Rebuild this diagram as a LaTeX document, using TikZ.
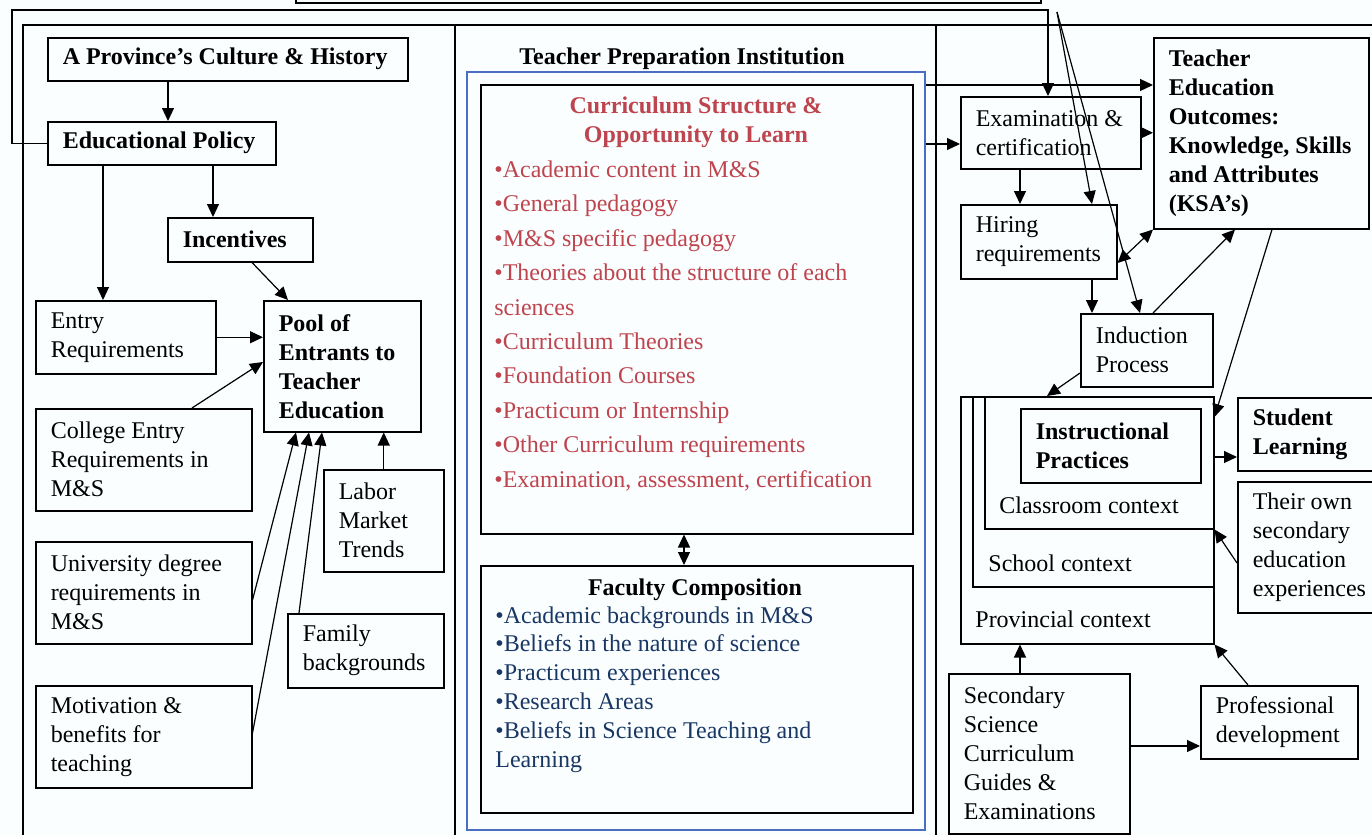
\documentclass[tikz,border=0pt]{standalone}
\usepackage{fontspec}
\setmainfont{Liberation Serif}
\usetikzlibrary{arrows.meta}
\definecolor{bg}{RGB}{250,254,255}
\definecolor{currred}{RGB}{190,68,78}
\definecolor{facblue}{RGB}{25,55,100}
\definecolor{instblue}{RGB}{75,110,195}
\hyphenpenalty=10000
\exhyphenpenalty=10000

\begin{document}
\begin{tikzpicture}[x=0.5pt,y=-0.5pt,>={Triangle[length=6.5pt,width=6pt]},
  font=\fontsize{12}{14.5}\selectfont,
  box/.style={draw,line width=0.75pt,anchor=north west,align=flush left,inner xsep=7.5pt,inner ysep=0pt},
  hbox/.style={box,font=\fontsize{12}{14.5}\selectfont\bfseries},
  ctx/.style={draw,line width=0.75pt,anchor=north west,inner sep=0pt},
  lab/.style={anchor=base west,inner sep=0pt,align=flush left},
  head/.style={anchor=base,inner sep=0pt,align=center,font=\fontsize{12}{14.5}\selectfont\bfseries},
  conn/.style={->,line width=0.6pt}]
\fill[bg] (0,0) rectangle (1372,835);
\useasboundingbox (0,0) rectangle (1372,835);
% frames
\node[ctx,minimum width=679pt,minimum height=411pt] (outer) at (22,24) {};
\draw[line width=0.75pt] (outer.north -| 455,0) -- (455,845);
\draw[line width=0.75pt] (outer.north -| 936,0) -- (936,845);
\node[ctx,minimum width=372.5pt,minimum height=31pt] (topbox) at (295,-60) {};
% left column
\node[hbox,text width=165pt,minimum height=21.5pt] (province) at (47,37) {A~Province’s~Culture~\&~History};
\node[hbox,text width=99pt,minimum height=21.5pt] (policy) at (47,121) {Educational Policy};
\node[hbox,text width=57.5pt,minimum height=22pt] (incent) at (167,217) {Incentives};
\node[box,text width=75pt,minimum height=36.5pt] (entry) at (35,300) {Entry\\Requirements};
\node[hbox,text width=63.5pt,minimum height=65.5pt] (pool) at (263,300) {Pool of\\Entrants~to\\Teacher\\Education};
\node[box,text width=93pt,minimum height=51pt] (college) at (35,408) {College Entry\\Requirements in\\M\&S};
\node[box,text width=93pt,minimum height=51pt] (univ) at (35,541) {University degree\\requirements in\\M\&S};
\node[box,text width=93pt,minimum height=51pt] (motiv) at (35,685) {Motivation \&\\benefits for\\teaching};
\node[box,text width=45pt,minimum height=51pt] (labor) at (323,469) {Labor\\Market\\Trends};
\node[box,text width=63pt,minimum height=37pt] (family) at (287,613) {Family\\backgrounds};
% middle column
\node[ctx,draw=instblue,minimum width=229pt,minimum height=379pt] (inst) at (466,71) {};
\node[head] (instT) at (682,64) {Teacher Preparation Institution};
\node[ctx,minimum width=216pt,minimum height=224.5pt] (curr) at (480,84) {};
\node[head,text=currred] (currT) at (696,142) {Curriculum Structure \&\\Opportunity to Learn};
\node[lab,text=currred,font=\fontsize{12}{17.2}\selectfont] (currL) at (494,487)
  {•Academic content in M\&S\\•General pedagogy\\•M\&S specific pedagogy\\•Theories about the structure of each\\sciences\\•Curriculum Theories\\•Foundation Courses\\•Practicum or Internship\\•Other Curriculum requirements\\•Examination, assessment, certification};
\node[ctx,minimum width=216pt,minimum height=123.5pt] (fac) at (480,565) {};
\node[head] (facT) at (695,595) {Faculty Composition};
\node[lab,text=facblue,font=\fontsize{12}{14.4}\selectfont] (facL) at (495,767)
  {•Academic backgrounds in M\&S\\•Beliefs in the nature of science\\•Practicum experiences\\•Research Areas\\•Beliefs in Science Teaching and\\Learning};
% right column
\node[box,text width=75pt,minimum height=36pt] (exam) at (960,96) {Examination \&\\certification};
\node[hbox,text width=92.5pt,minimum height=95.5pt] (outcomes) at (1153,37) {Teacher\\Education\\Outcomes:\\Knowledge,~Skills\\and Attributes\\(KSA’s)};
\node[box,text width=63pt,minimum height=37pt] (hiring) at (960,204) {Hiring\\requirements};
\node[box,text width=51pt,minimum height=36.5pt] (induct) at (1080,313) {Induction\\Process};
\node[ctx,minimum width=126.5pt,minimum height=123.5pt] (prov) at (960,396) {};
\node[ctx,minimum width=120.5pt,minimum height=95pt] (school) at (972,396) {};
\node[ctx,minimum width=114.5pt,minimum height=66pt] (classrm) at (984,396) {};
\node[hbox,text width=75pt,minimum height=37pt] (instr) at (1020,408) {Instructional\\Practices};
\node[lab] (classT) at (999,513) {Classroom context};
\node[lab] (schoolT) at (988,571) {School context};
\node[lab] (provT) at (975,627) {Provincial context};
\node[hbox,text width=60pt,minimum height=36.5pt] (student) at (1237,397) {Student\\Learning};
\node[box,text width=58pt,minimum height=65.5pt] (ownexp) at (1237,481) {Their own\\secondary\\education\\experiences};
\node[box,text width=75.5pt,minimum height=80pt] (second) at (948,673) {Secondary\\Science\\Curriculum\\Guides \&\\Examinations};
\node[box,text width=63.5pt,minimum height=36.5pt] (profdev) at (1200,685) {Professional\\development};
% connectors
\coordinate (bend) at (12,10);
\coordinate (split) at (1057,12);
\draw[conn] (policy.west) -| (bend) -| (exam.north -| 1048,0);
\draw[conn] (split) -- (hiring.north -| 1092,0);
\draw[conn] (split) -- (induct.north -| 1140,0);
\draw[conn] (province.south -| 168,0) -- (policy.north -| 168,0);
\draw[conn] (policy.south -| 103,0) -- (entry.north -| 103,0);
\draw[conn] (policy.south -| 213,0) -- (incent.north -| 213,0);
\draw[conn] (incent.south -| 252,0) -- (pool.north -| 288,0);
\draw[conn] (entry.east) -- (entry.east -| pool.west);
\draw[conn] (college.north -| 192,0) -- (pool.west |- 0,362);
\draw[conn] (univ.east |- 0,600) -- (pool.south -| 296,0);
\draw[conn] (motiv.east |- 0,733) -- (pool.south -| 309,0);
\draw[conn] (family.north -| 299,0) -- (pool.south -| 322,0);
\draw[conn] (labor.north) -- (labor.north |- pool.south);
\draw[conn,<->] (curr.south -| 684,0) -- (fac.north -| 684,0);
\draw[conn] (inst.east |- 0,85) -- (outcomes.west |- 0,85);
\draw[conn] (inst.east |- 0,144) -- (exam.west |- 0,144);
\draw[conn] (exam.east) -- (exam.east -| outcomes.west);
\draw[conn] (exam.south -| 1020,0) -- (hiring.north -| 1020,0);
\draw[conn,<->] (hiring.east |- 0,263) -- (outcomes.south west);
\draw[conn] (hiring.south -| 1092,0) -- (induct.north -| 1092,0);
\draw[conn] (induct.north -| 1153,0) -- (outcomes.south -| 1235,0);
\draw[conn] (induct.west |- 0,373) -- (prov.north -| 1047,0);
\draw[conn] (outcomes.south -| 1272,0) -- (classrm.east |- 0,417);
\draw[conn] (classrm.east |- 0,457) -- (student.west |- 0,457);
\draw[conn] (ownexp.west |- 0,563) -- (classrm.south east);
\draw[conn] (second.north -| 1020,0) -- (prov.south -| 1020,0);
\draw[conn] (second.east |- 0,746) -- (profdev.west |- 0,746);
\draw[conn] (profdev.north -| 1248,0) -- (prov.south east);
\end{tikzpicture}
\end{document}
